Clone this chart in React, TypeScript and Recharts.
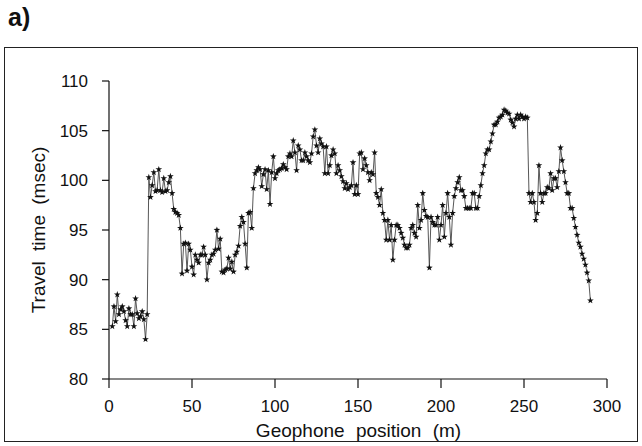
import { LineChart, Line, XAxis, YAxis } from "recharts";

// geophone positions run every metre from 2 m to 290 m
const FIRST_POSITION = 2;
const SPACING = 1;

// travel time (msec) per geophone
const travelTime = [
  85.3, 87.3, 85.8, 88.5, 86.5, 87.0, 87.3, 86.8, 85.9, 85.3,
  87.1, 86.5, 86.5, 85.3, 88.1, 86.6, 86.1, 86.3, 86.8, 86.0,
  84.0, 86.5, 100.3, 98.3, 99.5, 100.8, 98.9, 99.0, 101.1, 99.0,
  98.8, 100.2, 98.9, 99.0, 99.8, 100.4, 98.7, 97.1, 96.8, 96.7,
  96.5, 95.2, 90.6, 93.6, 93.7, 90.9, 93.6, 93.0, 91.3, 90.5,
  92.5, 92.0, 91.7, 92.5, 92.5, 93.3, 92.5, 90.0, 91.7, 92.0,
  92.5, 92.6, 93.0, 95.0, 93.1, 94.1, 90.8, 90.7, 91.0, 91.1,
  92.2, 91.1, 91.8, 90.8, 92.5, 92.8, 93.4, 95.4, 96.3, 95.8,
  93.6, 91.2, 96.7, 96.8, 95.2, 99.2, 100.7, 101.0, 101.3, 101.1,
  99.4, 100.6, 101.1, 99.1, 101.0, 97.6, 100.8, 102.4, 100.2, 100.7,
  101.0, 101.1, 101.2, 101.6, 101.3, 101.1, 102.4, 102.7, 102.4, 104.0,
  102.8, 101.0, 103.5, 103.1, 102.0, 102.0, 102.8, 102.4, 102.0, 101.8,
  102.7, 104.4, 105.1, 103.5, 102.8, 104.2, 103.7, 103.4, 100.7, 103.4,
  100.7, 101.5, 102.5, 103.1, 102.7, 100.7, 101.5, 101.0, 100.4, 99.9,
  99.2, 99.7, 99.1, 99.3, 99.5, 101.8, 98.6, 99.5, 98.6, 102.7,
  102.8, 101.1, 102.2, 101.5, 100.8, 100.0, 100.8, 100.6, 102.8, 98.7,
  98.3, 97.5, 99.1, 96.7, 96.0, 94.0, 96.0, 94.0, 95.5, 92.0,
  94.0, 95.5, 95.5, 95.2, 94.7, 94.2, 93.5, 93.2, 93.2, 93.5,
  95.2, 95.5, 94.7, 94.3, 97.5, 95.2, 96.0, 98.7, 97.0, 96.4,
  96.3, 91.2, 96.3, 95.8, 95.5, 95.5, 96.3, 94.0, 95.5, 97.5,
  94.3, 96.7, 98.7, 96.3, 93.5, 96.7, 98.4, 99.2, 99.8, 100.3,
  99.0, 99.0, 98.4, 97.2, 97.2, 97.2, 97.2, 98.7, 98.7, 97.2,
  97.2, 98.4, 99.5, 100.7, 101.5, 102.7, 103.1, 103.1, 103.9, 104.7,
  105.6, 105.6, 105.9, 106.3, 106.4, 106.6, 107.1, 107.0, 106.8, 106.7,
  106.1, 105.8, 105.4, 106.2, 106.6, 106.2, 106.6, 106.4, 106.2, 106.4,
  106.3, 98.7, 97.8, 98.7, 97.8, 96.0, 96.7, 101.5, 98.7, 97.8,
  98.7, 98.7, 99.3, 99.2, 100.7, 99.0, 100.2, 100.2, 99.3, 100.9,
  103.3, 102.0, 100.9, 99.8, 98.7, 98.7, 97.2, 97.2, 96.2, 95.3,
  94.5, 93.7, 93.3, 92.6, 92.1, 91.5, 90.7, 89.9, 87.9,
];

const xTicks = [0, 50, 100, 150, 200, 250, 300];
const yTicks = [80, 85, 90, 95, 100, 105, 110];

const data = travelTime.map((t, i) => ({
  position: FIRST_POSITION + i * SPACING,
  time: t,
}));

const FONT = "'Liberation Sans', Arial, sans-serif";
const TICK = { fill: "#111", fontSize: 17, fontFamily: FONT };

function starPath(cx: number, cy: number, ro: number, ri: number) {
  let d = "";
  for (let k = 0; k < 10; k++) {
    const r = k % 2 === 0 ? ro : ri;
    const a = -Math.PI / 2 + (k * Math.PI) / 5;
    d += (k === 0 ? "M" : "L") + (cx + r * Math.cos(a)).toFixed(2) + "," + (cy + r * Math.sin(a)).toFixed(2);
  }
  return d + "Z";
}

const renderStar = (props: any) => {
  const { cx, cy, index } = props;
  if (cx == null || cy == null) return <g key={`s-${index}`} />;
  return <path key={`s-${index}`} d={starPath(cx, cy, 3.5, 1.4)} fill="#111" />;
};

export default function App() {
  return (
    <div
      style={{
        position: "absolute",
        left: 0,
        top: 0,
        width: 642,
        height: 446,
        background: "#fff",
        fontFamily: FONT,
        color: "#111",
      }}
    >
      <div style={{ position: "absolute", left: 8, top: 5, fontSize: 25, fontWeight: 700, lineHeight: 1 }}>
        a)
      </div>
      <div
        style={{
          position: "absolute",
          left: 4,
          top: 47,
          width: 632,
          height: 393,
          border: "1.5px solid #222",
        }}
      />
      <div style={{ position: "absolute", top: 0, left: 0 }}>
        <LineChart width={642} height={446} data={data} margin={{ top: 81, right: 35, bottom: 0, left: 0 }}>
          <XAxis
            dataKey="position"
            type="number"
            domain={[0, 300]}
            ticks={xTicks}
            height={67}
            tick={TICK}
            tickSize={9}
            tickMargin={12}
            stroke="#111"
            strokeWidth={1.2}
            interval={0}
          />
          <YAxis
            type="number"
            domain={[80, 110]}
            ticks={yTicks}
            width={109}
            tick={TICK}
            tickSize={7}
            tickMargin={14}
            stroke="#111"
            strokeWidth={1.2}
            interval={0}
          />
          <Line
            dataKey="time"
            stroke="#444"
            strokeWidth={0.9}
            dot={renderStar}
            activeDot={false}
            isAnimationActive={false}
          />
        </LineChart>
      </div>
      <div
        style={{
          position: "absolute",
          left: 110,
          width: 497,
          top: 421,
          textAlign: "center",
          fontSize: 19,
          wordSpacing: 6,
          lineHeight: 1,
        }}
      >
        Geophone position (m)
      </div>
      <div
        style={{
          position: "absolute",
          left: 38,
          top: 230,
          transform: "translate(-50%, -50%) rotate(-90deg)",
          whiteSpace: "nowrap",
          fontSize: 19,
          wordSpacing: 5,
          lineHeight: 1,
        }}
      >
        Travel time (msec)
      </div>
    </div>
  );
}
